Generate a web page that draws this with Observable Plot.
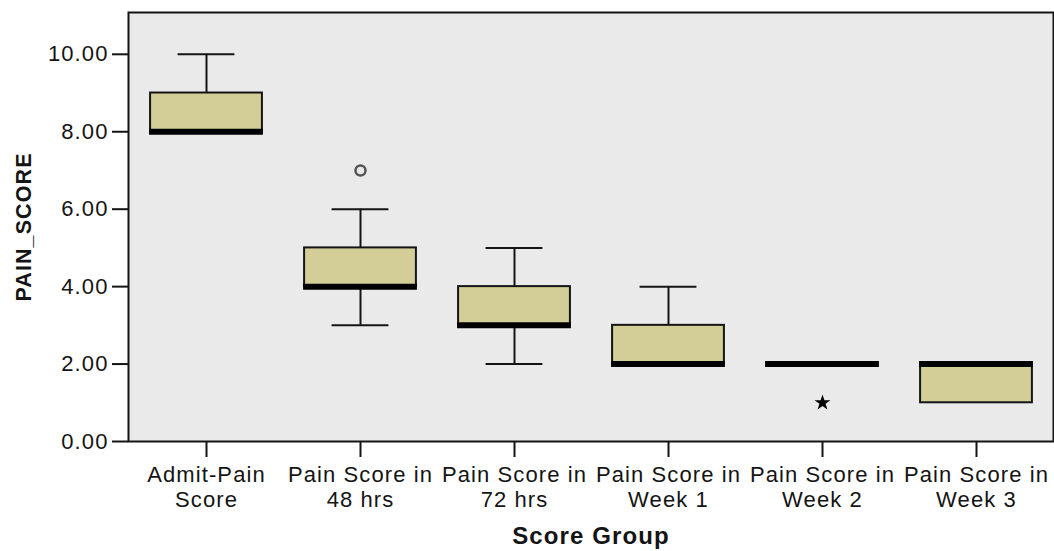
<!DOCTYPE html>
<html>
<head>
<meta charset="utf-8">
<script src="https://cdn.jsdelivr.net/npm/d3@7"></script>
<script src="https://cdn.jsdelivr.net/npm/@observablehq/plot@0.6"></script>
<style>
  html, body { margin: 0; padding: 0; background: #fff; }
  svg text { letter-spacing: 1.1px; }
</style>
</head>
<body>
<div id="chart"></div>
<script>
const categories = ["Admit-Pain Score", "Pain Score in 48 hrs", "Pain Score in 72 hrs", "Pain Score in Week 1", "Pain Score in Week 2", "Pain Score in Week 3"];
const tickLabels = ["Admit-Pain\nScore", "Pain Score in\n48 hrs", "Pain Score in\n72 hrs", "Pain Score in\nWeek 1", "Pain Score in\nWeek 2", "Pain Score in\nWeek 3"];
const whiskerLow  = [8, 3, 2, 2, 2, 1];
const q1          = [8, 4, 3, 2, 2, 1];
const median      = [8, 4, 3, 2, 2, 2];
const q3          = [9, 5, 4, 3, 2, 2];
const whiskerHigh = [10, 6, 5, 4, 2, 2];
const outlierCategory = ["Pain Score in 48 hrs"];
const outlierValue = [7];
const extremeCategory = ["Pain Score in Week 2"];
const extremeValue = [1];
const yTicks = [0, 2, 4, 6, 8, 10];

const boxes = categories.map((c, i) => ({cat: c, lo: whiskerLow[i], q1: q1[i], med: median[i], q3: q3[i], hi: whiskerHigh[i]}));
const lowWhiskers = boxes.filter(d => d.lo < d.q1);
const highWhiskers = boxes.filter(d => d.hi > d.q3);
const outliers = outlierCategory.map((c, i) => ({cat: c, v: outlierValue[i]}));
const extremes = extremeCategory.map((c, i) => ({cat: c, v: extremeValue[i]}));
const labelOf = new Map(categories.map((c, i) => [c, tickLabels[i]]));

const W = 1054, H = 551;
const mL = 128, mR = 1, mT = 12, mB = 110;
const band = (W - mL - mR) / categories.length;
const boxInset = (band - 112) / 2;
const capInset = (band - 57) / 2;
const ink = "#141414";

const chart = Plot.plot({
  width: W,
  height: H,
  marginLeft: mL,
  marginRight: mR,
  marginTop: mT,
  marginBottom: mB,
  style: {fontFamily: "'Liberation Sans', Arial, sans-serif", fontSize: "22px", color: ink, background: "#fff"},
  x: {domain: categories, padding: 0},
  y: {domain: [0, 11.08]},
  marks: [
    Plot.frame({fill: "#eaeaea"}),
    Plot.axisY({ticks: yTicks, tickFormat: d3.format(".2f"), tickSize: 16, tickPadding: 4, strokeWidth: 2, label: null, fontSize: 22}),
    Plot.axisX({tickFormat: d => labelOf.get(d), tickSize: 16, tickPadding: 7, strokeWidth: 2, label: null, fontSize: 22, lineHeight: 1.14}),
    Plot.ruleX(lowWhiskers, {x: "cat", y1: "lo", y2: "q1", stroke: ink, strokeWidth: 2}),
    Plot.ruleX(highWhiskers, {x: "cat", y1: "q3", y2: "hi", stroke: ink, strokeWidth: 2}),
    Plot.tickY(lowWhiskers, {x: "cat", y: "lo", stroke: ink, strokeWidth: 2, insetLeft: capInset, insetRight: capInset}),
    Plot.tickY(highWhiskers, {x: "cat", y: "hi", stroke: ink, strokeWidth: 2, insetLeft: capInset, insetRight: capInset}),
    Plot.barY(boxes, {x: "cat", y1: "q1", y2: "q3", fill: "#d3ce97", stroke: ink, strokeWidth: 2, insetLeft: boxInset, insetRight: boxInset}),
    Plot.tickY(boxes, {x: "cat", y: "med", stroke: "#000", strokeWidth: 6, insetLeft: boxInset - 1, insetRight: boxInset - 1}),
    Plot.dot(outliers, {x: "cat", y: "v", r: 5, stroke: "#555", strokeWidth: 2.5, fill: "none"}),
    Plot.dot(extremes, {x: "cat", y: "v", r: 5, symbol: "star", fill: "#000", stroke: "none"}),
    Plot.text(["PAIN_SCORE"], {frameAnchor: "left", textAnchor: "middle", dx: -104, rotate: -90, fontWeight: "bold", fontSize: 21.5, fill: ink}),
    Plot.text(["Score Group"], {frameAnchor: "bottom", dy: 102, fontWeight: "bold", fontSize: 24, fill: ink}),
    Plot.frame({stroke: ink, strokeWidth: 2})
  ]
});
document.getElementById("chart").appendChild(chart);
</script>
</body>
</html>
